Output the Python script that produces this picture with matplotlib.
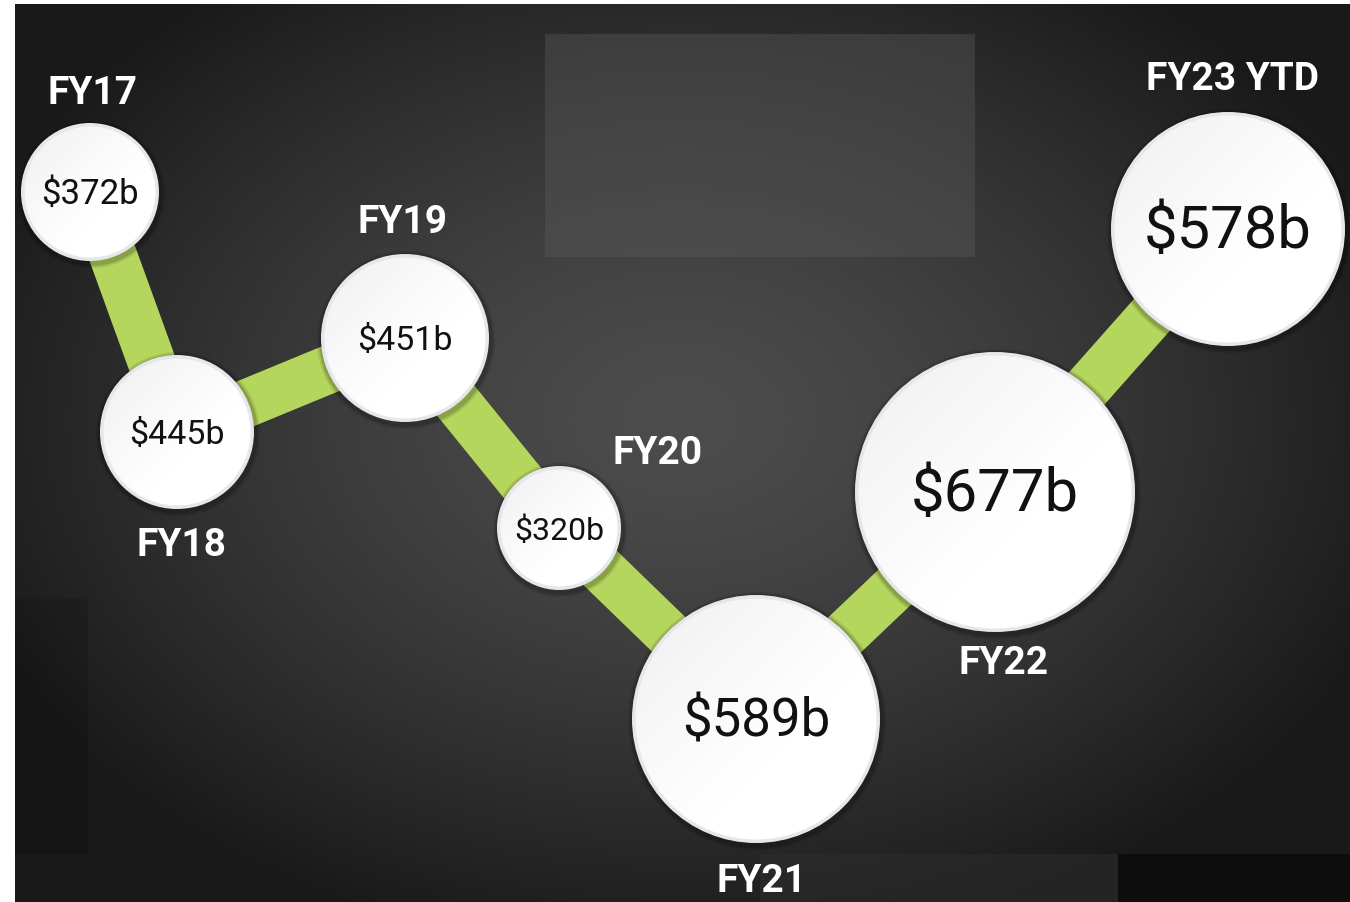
import numpy as np
import matplotlib
matplotlib.use("Agg")
import matplotlib.pyplot as plt
from matplotlib.patches import Circle, Rectangle

# data
years = ["FY17", "FY18", "FY19", "FY20", "FY21", "FY22", "FY23 YTD"]
values = [372, 445, 451, 320, 589, 677, 578]

# layout of the bubbles (pixel canvas, y grows downward)
x_pos = [90, 177, 405, 559, 756, 995, 1228]
y_pos = [193, 433, 339, 529, 720, 493, 230]
radius_px = [69, 77, 84, 62, 124, 140, 117]
value_fs = [25, 24.5, 24.5, 23, 38, 43, 43]
lab_x = [92, 181, 402, 658, 762, 1004, 1232]
lab_y = [94, 546, 223, 454, 882, 664, 79]

W, H = 1350, 903
green = "#b5d65d"
bold_fam = ["Liberation Sans Narrow", "Roboto", "DejaVu Sans"]
num_fam = ["Roboto", "DejaVu Sans"]

fig = plt.figure(figsize=(W / 100, H / 100), dpi=100, facecolor="white")
ax = fig.add_axes([0, 0, 1, 1])
ax.axis("off")

# dark background, lighter in the middle
gx, gy = np.meshgrid(np.linspace(15, W, 400), np.linspace(5, H, 300))
d = np.sqrt(((gx - 680) / 760.0) ** 2 + ((gy - 420) / 540.0) ** 2)
g = 0.30 - 0.20 * np.clip(d, 0, 1) ** 1.4
bg = np.dstack([g, g, g])
ax.imshow(bg, extent=(15, W, H, 5), origin="upper", interpolation="bilinear", zorder=0)

# patchy blocks in the backdrop
ax.add_patch(Rectangle((545, 35), 430, 223, facecolor="#5a5a5a", alpha=0.4, lw=0, zorder=1))
ax.add_patch(Rectangle((15, 600), 73, 255, facecolor="black", alpha=0.12, lw=0, zorder=1))
ax.add_patch(Rectangle((1118, 855), W - 1118, 48, facecolor="black", alpha=0.45, lw=0, zorder=1))
ax.add_patch(Rectangle((760, 855), 358, 48, facecolor="#2c2c2c", alpha=0.6, lw=0, zorder=1))

# connecting band
ax.plot(x_pos, y_pos, color=green, lw=34.5, solid_capstyle="butt",
        solid_joinstyle="miter", zorder=2)

# bubbles
shade = np.linspace(0, 1, 64)
sx, sy = np.meshgrid(shade, shade)
grad = 0.94 + 0.06 * np.clip((sx + sy) / 1.2, 0, 1)
grad_img = np.dstack([grad, grad, grad])

for i in range(len(values)):
    cx, cy, r = x_pos[i], y_pos[i], radius_px[i]
    for k, a in zip([5, 3], [0.10, 0.16]):
        ax.add_patch(Circle((cx + 1, cy + 2), r + k, facecolor="black", alpha=a, lw=0, zorder=3))
    ax.add_patch(Circle((cx, cy), r, facecolor="#e6e6ec", lw=0, zorder=4))
    inner = Circle((cx, cy), r - 3.5, facecolor="none", lw=0, zorder=5)
    ax.add_patch(inner)
    im = ax.imshow(grad_img, extent=(cx - r, cx + r, cy + r, cy - r), origin="upper",
                   interpolation="bilinear", zorder=5)
    im.set_clip_path(inner)
    ax.text(cx, cy + 2, f"${values[i]}b", ha="center", va="center", fontsize=value_fs[i],
            family=num_fam, color="#111111", zorder=6)
    ax.text(lab_x[i], lab_y[i], years[i], ha="center", va="center", fontsize=28,
            family=bold_fam, weight="bold", color="white", zorder=6)

ax.set_xlim(0, W)
ax.set_ylim(H, 0)
fig.savefig("out.png", dpi=100, facecolor="white")
